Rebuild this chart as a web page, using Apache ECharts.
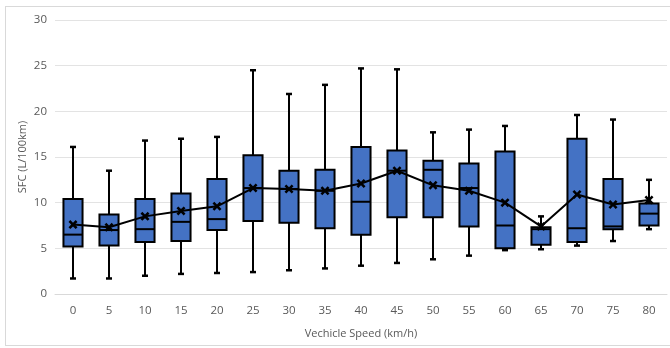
<!DOCTYPE html>
<html>
<head>
<meta charset="utf-8">
<script src="https://cdn.jsdelivr.net/npm/echarts@6/dist/echarts.min.js"></script>
<style>
  html, body { margin: 0; padding: 0; background: #fff; }
  #frame { position: absolute; left: 5px; top: 6px; width: 670px; height: 340px; border: 1px solid #d9d9d9; box-sizing: border-box; }
  #chart { width: 670px; height: 348px; }
</style>
</head>
<body>
<div id="frame"></div>
<div id="chart"></div>
<script>
// Vehicle speed bins (km/h)
const speeds = ['0','5','10','15','20','25','30','35','40','45','50','55','60','65','70','75','80'];
// Box-plot statistics of SFC (L/100km) per speed bin
const whiskerLow  = [1.7, 1.7, 2.0, 2.2, 2.3, 2.4, 2.6, 2.8, 3.1, 3.4, 3.8, 4.2, 4.8, 4.9, 5.3, 5.8, 7.1];
const quartile1   = [5.2, 5.3, 5.7, 5.8, 7.0, 8.0, 7.8, 7.2, 6.5, 8.4, 8.4, 7.4, 5.0, 5.4, 5.7, 7.1, 7.5];
const medians     = [6.5, 7.0, 7.1, 7.9, 8.2, 11.6, 11.5, 11.3, 10.1, 13.5, 13.6, 11.6, 7.5, 7.1, 7.2, 7.4, 8.8];
const quartile3   = [10.4, 8.7, 10.4, 11.0, 12.6, 15.2, 13.5, 13.6, 16.1, 15.7, 14.6, 14.3, 15.6, 7.3, 17.0, 12.6, 9.9];
const whiskerHigh = [16.1, 13.5, 16.8, 17.0, 17.2, 24.5, 21.9, 22.9, 24.7, 24.6, 17.7, 18.0, 18.4, 8.5, 19.6, 19.1, 12.5];
const means       = [7.6, 7.3, 8.5, 9.1, 9.6, 11.6, 11.5, 11.3, 12.1, 13.5, 11.9, 11.3, 10.0, 7.4, 10.9, 9.8, 10.3];
const yTicks = [0, 5, 10, 15, 20, 25, 30];

const boxData = speeds.map((s, i) => [i, whiskerLow[i], quartile1[i], medians[i], quartile3[i], whiskerHigh[i]]);

const BOX_FILL = '#4472C4';
const INK = '#000000';

function renderBox(params, api) {
  const i = api.value(0);
  const pLow = api.coord([i, api.value(1)]);
  const pQ1 = api.coord([i, api.value(2)]);
  const pMed = api.coord([i, api.value(3)]);
  const pQ3 = api.coord([i, api.value(4)]);
  const pHigh = api.coord([i, api.value(5)]);
  const cx = pLow[0];
  const half = api.size([1, 0])[0] * 0.265;
  const cap = 3;
  const lineStyle = { stroke: INK, lineWidth: 2 };
  return {
    type: 'group',
    children: [
      { type: 'line', shape: { x1: cx, y1: pHigh[1], x2: cx, y2: pQ3[1] }, style: lineStyle },
      { type: 'line', shape: { x1: cx, y1: pQ1[1], x2: cx, y2: pLow[1] }, style: lineStyle },
      { type: 'line', shape: { x1: cx - cap, y1: pHigh[1], x2: cx + cap, y2: pHigh[1] }, style: { stroke: INK, lineWidth: 2.5 } },
      { type: 'line', shape: { x1: cx - cap, y1: pLow[1], x2: cx + cap, y2: pLow[1] }, style: { stroke: INK, lineWidth: 2.5 } },
      { type: 'rect', shape: { x: cx - half, y: pQ3[1], width: half * 2, height: pQ1[1] - pQ3[1] },
        style: { fill: BOX_FILL, stroke: INK, lineWidth: 2 } },
      { type: 'line', shape: { x1: cx - half, y1: pMed[1], x2: cx + half, y2: pMed[1] }, style: lineStyle }
    ]
  };
}

const chart = echarts.init(document.getElementById('chart'), null, { renderer: 'canvas' });
const font = '"Open Sans", "Liberation Sans", sans-serif';
chart.setOption({
  animation: false,
  backgroundColor: 'transparent',
  grid: { left: 55, right: 3, top: 20, bottom: 54 },
  xAxis: {
    type: 'category',
    data: speeds,
    boundaryGap: true,
    name: 'Vechicle Speed (km/h)',
    nameLocation: 'middle',
    nameGap: 34,
    nameMoveOverlap: false,
    nameTextStyle: { color: '#595959', fontSize: 11, fontFamily: font },
    axisLine: { show: true, lineStyle: { color: '#d9d9d9', width: 1 } },
    axisTick: { show: false },
    axisLabel: { color: '#595959', fontSize: 11.5, fontFamily: font, margin: 11 },
    splitLine: { show: false }
  },
  yAxis: {
    type: 'value',
    min: yTicks[0],
    max: yTicks[yTicks.length - 1],
    interval: 5,
    name: 'SFC (L/100km)',
    nameLocation: 'middle',
    nameGap: 27,
    nameMoveOverlap: false,
    nameTextStyle: { color: '#595959', fontSize: 11, fontFamily: font },
    axisLine: { show: false },
    axisTick: { show: false },
    axisLabel: { color: '#595959', fontSize: 11.5, fontFamily: font, margin: 8 },
    splitLine: { lineStyle: { color: '#e3e3e3', width: 1 } }
  },
  series: [
    {
      type: 'custom',
      renderItem: renderBox,
      data: boxData,
      encode: { x: 0, y: [1, 2, 3, 4, 5] },
      z: 2
    },
    {
      type: 'line',
      data: means,
      z: 5,
      lineStyle: { color: INK, width: 2 },
      itemStyle: { color: INK },
      symbol: 'path://M0,2L2,0L5,3L8,0L10,2L7,5L10,8L8,10L5,7L2,10L0,8L3,5Z',
      symbolSize: 9,
      showSymbol: true
    }
  ]
});
</script>
</body>
</html>
